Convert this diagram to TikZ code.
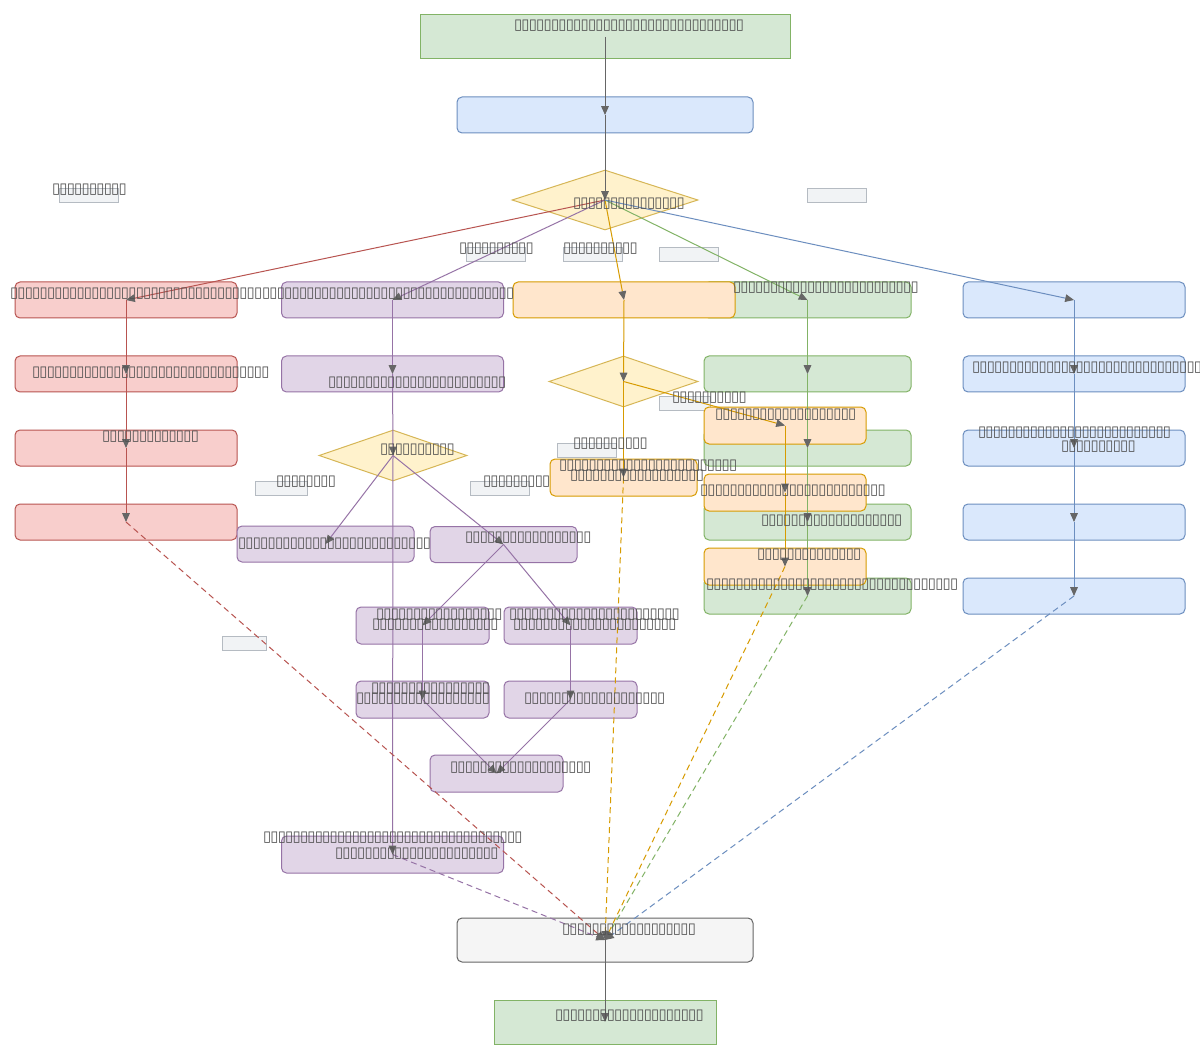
\documentclass[tikz,border=0pt]{standalone}
\usepackage{fontspec}
\usetikzlibrary{arrows.meta,shapes.geometric}
\newfontfamily\boxfont{DejaVu Sans}
\definecolor{redfill}{HTML}{F8CECC}\definecolor{redln}{HTML}{B85450}
\definecolor{purfill}{HTML}{E1D5E7}\definecolor{purln}{HTML}{9673A6}
\definecolor{orafill}{HTML}{FFE6CC}\definecolor{oraln}{HTML}{D79B00}
\definecolor{grefill}{HTML}{D5E8D4}\definecolor{greln}{HTML}{82B366}
\definecolor{blufill}{HTML}{DAE8FC}\definecolor{bluln}{HTML}{6C8EBF}
\definecolor{yelfill}{HTML}{FFF2CC}\definecolor{yelln}{HTML}{D6B656}
\definecolor{grayfill}{HTML}{F5F5F5}\definecolor{grayln}{HTML}{666666}
\definecolor{labfill}{HTML}{F1F3F5}\definecolor{labln}{HTML}{B5BBC2}
\definecolor{txtgray}{HTML}{505050}
% unreadable glyphs of the reference, one box each
\newcommand\tofu[1]{{\boxfont\fontsize{7.4}{8}\selectfont\color{txtgray}%
  \foreach\k in {1,...,#1}{\makebox[3.7pt]{\symbol{"25AF}}}}}
\begin{document}
\begin{tikzpicture}[x=.5pt,y=-.5pt,
    box/.style={draw,rounded corners=2.5pt,line width=.5pt,inner sep=0,minimum width=111pt,minimum height=18pt},
    redbox/.style={box,fill=redfill,draw=redln},
    purbox/.style={box,fill=purfill,draw=purln},
    orabox/.style={box,fill=orafill,draw=oraln},
    grebox/.style={box,fill=grefill,draw=greln,minimum width=103.5pt},
    blubox/.style={box,fill=blufill,draw=bluln},
    small/.style={minimum width=66.5pt,minimum height=18.5pt},
    choice/.style={diamond,draw=yelln,fill=yelfill,line width=.5pt,inner sep=0},
    lab/.style={draw=labln,fill=labfill,line width=.5pt,inner sep=0,minimum width=29.5pt,minimum height=7pt},
    txt/.style={anchor=west,inner sep=0},
    tip/.style={line width=.5pt,-{Triangle[length=4.4pt,width=3.8pt,color=grayln]}},
    dsh/.style={tip,dash pattern=on 3pt off 2pt}]
\fill[white] (0,0) rectangle (1200,1059);
\useasboundingbox (0,0) rectangle (1200,1059);

% top of the flow
\node[box,sharp corners,fill=grefill,draw=greln,minimum width=185pt,minimum height=22pt] (start) at (605,37) {};
\node[blubox,minimum width=148pt] (prep) at (605,115) {};
\node[choice,minimum width=93pt,minimum height=30pt] (pick) at (605,200) {};

% edge labels
\node[lab] (lb1) at (88.5,196) {};
\node[lab] (lb2) at (836.5,196) {};
\node[lab] (lb3) at (495.5,255) {};
\node[lab] (lb4) at (592.5,255) {};
\node[lab] (lb5) at (688.5,255) {};
\node[lab,minimum width=25.5pt] (lb6) at (684.5,403) {};
\node[lab] (lb7) at (586.5,450) {};
\node[lab,minimum width=26pt] (lb8) at (281,488) {};
\node[lab] (lb9) at (499.5,488) {};
\node[lab,minimum width=22pt] (lb10) at (244,643.5) {};

% red column
\node[redbox] (r1) at (126,300) {};
\node[redbox] (r2) at (126,374) {};
\node[redbox] (r3) at (126,448) {};
\node[redbox] (r4) at (126,522) {};

% purple column
\node[purbox] (p1) at (392.5,300) {};
\node[purbox] (p2) at (392.5,374) {};
\node[choice,minimum width=74pt,minimum height=25.5pt] (pq) at (393,455.5) {};
\node[purbox,minimum width=88.5pt] (pb1) at (325.5,544) {};
\node[purbox,minimum width=73.5pt] (pb2) at (503.5,544.5) {};
\node[purbox,small] (pc1) at (422.5,625.5) {};
\node[purbox,small] (pc2) at (570.5,625.5) {};
\node[purbox,small] (pd1) at (422.5,699.5) {};
\node[purbox,small] (pd2) at (570.5,699.5) {};
\node[purbox,small] (pe) at (496.5,773.5) {};
\node[purbox,minimum height=18.5pt] (pf) at (392.5,854.5) {};

% green column
\node[grebox] (g1) at (807.5,300) {};
\node[grebox] (g2) at (807.5,374) {};
\node[grebox] (g3) at (807.5,448) {};
\node[grebox] (g4) at (807.5,522) {};
\node[grebox] (g5) at (807.5,596) {};

% orange column
\node[orabox] (o1) at (624,300) {};
\node[choice,minimum width=74.5pt,minimum height=25.5pt] (oq) at (623.5,381.5) {};
\node[orabox,minimum width=73.5pt,minimum height=18.5pt] (oc) at (623.5,477.5) {};
\node[orabox,minimum width=81pt,minimum height=18.5pt] (ob1) at (785,425.5) {};
\node[orabox,minimum width=81pt,minimum height=18.5pt] (ob2) at (785,492.5) {};
\node[orabox,minimum width=81pt,minimum height=18.5pt] (ob3) at (785,566.5) {};

% blue column
\node[blubox] (b1) at (1074,300) {};
\node[blubox] (b2) at (1074,374) {};
\node[blubox] (b3) at (1074,448) {};
\node[blubox] (b4) at (1074,522) {};
\node[blubox] (b5) at (1074,596) {};

% end of the flow
\node[box,fill=grayfill,draw=grayln,minimum width=148pt,minimum height=22pt] (join) at (605,940) {};
\node[box,sharp corners,fill=grefill,draw=greln,minimum height=22pt] (done) at (605,1022) {};

% connectors
\draw[tip,grayln] (start.center) -- (prep.center);
\draw[tip,grayln] (prep.center) -- (pick.center);
\draw[tip,redln] (pick.center) -- (r1.center);
\draw[tip,purln] (pick.center) -- (p1.center);
\draw[tip,oraln] (pick.center) -- (o1.center);
\draw[tip,greln] (pick.center) -- (g1.center);
\draw[tip,bluln] (pick.center) -- (b1.center);
\foreach \a/\b in {r1/r2,r2/r3,r3/r4}
    \draw[tip,redln] (\a.center) -- (\b.center);
\foreach \a/\b in {p1/p2,p2/pq,pq/pb1,pq/pb2,pq/pf,pb2/pc1,pb2/pc2,pc1/pd1,pc2/pd2,pd1/pe,pd2/pe}
    \draw[tip,purln] (\a.center) -- (\b.center);
\foreach \a/\b in {o1/oq,oq/oc,oq/ob1,ob1/ob2,ob2/ob3}
    \draw[tip,oraln] (\a.center) -- (\b.center);
\foreach \a/\b in {g1/g2,g2/g3,g3/g4,g4/g5}
    \draw[tip,greln] (\a.center) -- (\b.center);
\foreach \a/\b in {b1/b2,b2/b3,b3/b4,b4/b5}
    \draw[tip,bluln] (\a.center) -- (\b.center);
\draw[dsh,redln] (r4.center) -- (join.center);
\draw[dsh,purln] (pf.center) -- (join.center);
\draw[dsh,oraln] (oc.center) -- (join.center);
\draw[dsh,oraln] (ob3.center) -- (join.center);
\draw[dsh,greln] (g5.center) -- (join.center);
\draw[dsh,bluln] (b5.center) -- (join.center);
\draw[tip,grayln] (join.center) -- (done.center);

% texts
\node[txt] (tstart) at (514,26) {\tofu{31}};
\node[txt] (tpick) at (573,204) {\tofu{15}};
\node[txt] (tl1) at (52,190) {\tofu{10}};
\node[txt] (tl3) at (459,249) {\tofu{10}};
\node[txt] (tl4) at (563,249) {\tofu{10}};
\node[txt] (tl6) at (672,398) {\tofu{10}};
\node[txt] (tl7) at (573,444) {\tofu{10}};
\node[txt] (tl8) at (276,482) {\tofu{8}};
\node[txt] (tl9) at (483,482) {\tofu{9}};
\node[txt] (tr1) at (10,294) {\tofu{34}};
\node[txt] (tp1) at (262,294) {\tofu{34}};
\node[txt] (tg1) at (733,288) {\tofu{25}};
\node[txt] (tr2) at (32,373) {\tofu{32}};
\node[txt] (tp2) at (328,383) {\tofu{24}};
\node[txt] (tb2) at (972,368) {\tofu{31}};
\node[txt] (tr3) at (102,437) {\tofu{13}};
\node[txt] (tpq) at (380,450) {\tofu{10}};
\node[txt] (tob1) at (715,415) {\tofu{19}};
\node[txt] (toc) at (559,466) {\tofu{24}};
\node[txt] (toc2) at (570,476) {\tofu{18}};
\node[txt] (tb3) at (978,433) {\tofu{26}};
\node[txt] (tb32) at (1061,447) {\tofu{10}};
\node[txt] (tob2) at (700,491) {\tofu{25}};
\node[txt] (tg4) at (761,521) {\tofu{19}};
\node[txt] (tpb1) at (238,544) {\tofu{26}};
\node[txt] (tpb2) at (465,538) {\tofu{17}};
\node[txt] (tob3) at (757,555) {\tofu{14}};
\node[txt] (tg5) at (706,585) {\tofu{34}};
\node[txt] (tpc1) at (376,615) {\tofu{17}};
\node[txt] (tpc12) at (372,625) {\tofu{17}};
\node[txt] (tpc2) at (509,615) {\tofu{23}};
\node[txt] (tpc22) at (513,625) {\tofu{22}};
\node[txt] (tpd1) at (371,689) {\tofu{16}};
\node[txt] (tpd12) at (356,699) {\tofu{18}};
\node[txt] (tpd2) at (524,699) {\tofu{19}};
\node[txt] (tpe) at (450,768) {\tofu{19}};
\node[txt] (tpf) at (263,838) {\tofu{35}};
\node[txt] (tpf2) at (335,854) {\tofu{22}};
\node[txt] (tjoin) at (562,930) {\tofu{18}};
\node[txt] (tdone) at (555,1016) {\tofu{20}};
\end{tikzpicture}
\end{document}
